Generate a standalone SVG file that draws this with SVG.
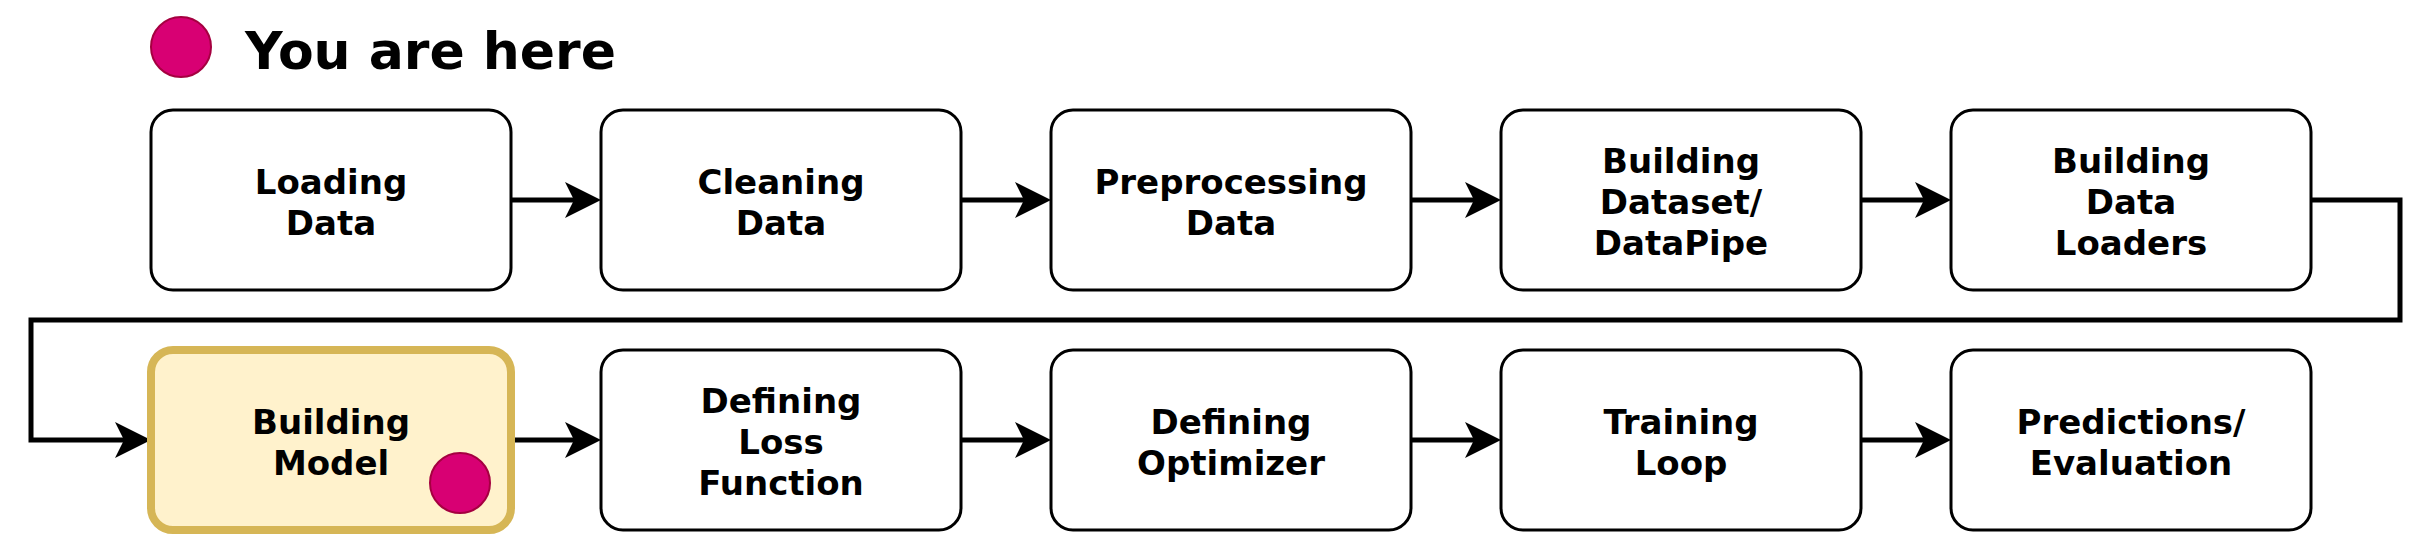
<svg xmlns="http://www.w3.org/2000/svg" width="2430" height="548" viewBox="0 0 2430 548">
<style>
.box{fill:#ffffff;stroke:#000000;stroke-width:3}
.hl{fill:#fff2cc;stroke:#d6b656;stroke-width:8}
.lbl{font-family:"DejaVu Sans","Verdana",sans-serif;font-weight:bold;font-size:34px;fill:#000000;text-anchor:middle}
.title{font-family:"DejaVu Sans","Verdana",sans-serif;font-weight:bold;font-size:52px;fill:#000000}
.dot{fill:#d80073;stroke:#a50040;stroke-width:2}
.edge{fill:none;stroke:#000000;stroke-width:5}
</style>
<defs>
<marker id="arr" markerUnits="userSpaceOnUse" viewBox="0 0 36 36" refX="13" refY="18" markerWidth="36" markerHeight="36" orient="auto">
<path d="M0,0 L36,18 L0,36 L9,18 Z" fill="#000000"/>
</marker>
</defs>
<g id="legend">
<circle class="dot" cx="181" cy="47" r="30"/>
<text class="title" x="245" y="69">You are here</text>
</g>
<g id="connectors">
<path class="edge" d="M511,200 H578" marker-end="url(#arr)"/>
<path class="edge" d="M961,200 H1028" marker-end="url(#arr)"/>
<path class="edge" d="M1411,200 H1478" marker-end="url(#arr)"/>
<path class="edge" d="M1861,200 H1928" marker-end="url(#arr)"/>
<path class="edge" d="M2311,200 H2400 V320 H31 V440 H128" marker-end="url(#arr)"/>
<path class="edge" d="M515,440 H578" marker-end="url(#arr)"/>
<path class="edge" d="M961,440 H1028" marker-end="url(#arr)"/>
<path class="edge" d="M1411,440 H1478" marker-end="url(#arr)"/>
<path class="edge" d="M1861,440 H1928" marker-end="url(#arr)"/>
</g>
<g id="loading-data">
<rect class="box" x="151" y="110" width="360" height="180" rx="22"/>
<text class="lbl" x="331" y="194">Loading</text>
<text class="lbl" x="331" y="235">Data</text>
</g>
<g id="cleaning-data">
<rect class="box" x="601" y="110" width="360" height="180" rx="22"/>
<text class="lbl" x="781" y="194">Cleaning</text>
<text class="lbl" x="781" y="235">Data</text>
</g>
<g id="preprocessing-data">
<rect class="box" x="1051" y="110" width="360" height="180" rx="22"/>
<text class="lbl" x="1231" y="194">Preprocessing</text>
<text class="lbl" x="1231" y="235">Data</text>
</g>
<g id="building-dataset">
<rect class="box" x="1501" y="110" width="360" height="180" rx="22"/>
<text class="lbl" x="1681" y="173">Building</text>
<text class="lbl" x="1681" y="214">Dataset/</text>
<text class="lbl" x="1681" y="255">DataPipe</text>
</g>
<g id="building-data-loaders">
<rect class="box" x="1951" y="110" width="360" height="180" rx="22"/>
<text class="lbl" x="2131" y="173">Building</text>
<text class="lbl" x="2131" y="214">Data</text>
<text class="lbl" x="2131" y="255">Loaders</text>
</g>
<g id="building-model">
<rect class="hl" x="151" y="350" width="360" height="180" rx="22"/>
<text class="lbl" x="331" y="434">Building</text>
<text class="lbl" x="331" y="475">Model</text>
<circle class="dot" cx="460" cy="483" r="30"/>
</g>
<g id="defining-loss-function">
<rect class="box" x="601" y="350" width="360" height="180" rx="22"/>
<text class="lbl" x="781" y="413">Defining</text>
<text class="lbl" x="781" y="454">Loss</text>
<text class="lbl" x="781" y="495">Function</text>
</g>
<g id="defining-optimizer">
<rect class="box" x="1051" y="350" width="360" height="180" rx="22"/>
<text class="lbl" x="1231" y="434">Defining</text>
<text class="lbl" x="1231" y="475">Optimizer</text>
</g>
<g id="training-loop">
<rect class="box" x="1501" y="350" width="360" height="180" rx="22"/>
<text class="lbl" x="1681" y="434">Training</text>
<text class="lbl" x="1681" y="475">Loop</text>
</g>
<g id="predictions-evaluation">
<rect class="box" x="1951" y="350" width="360" height="180" rx="22"/>
<text class="lbl" x="2131" y="434">Predictions/</text>
<text class="lbl" x="2131" y="475">Evaluation</text>
</g>
</svg>
